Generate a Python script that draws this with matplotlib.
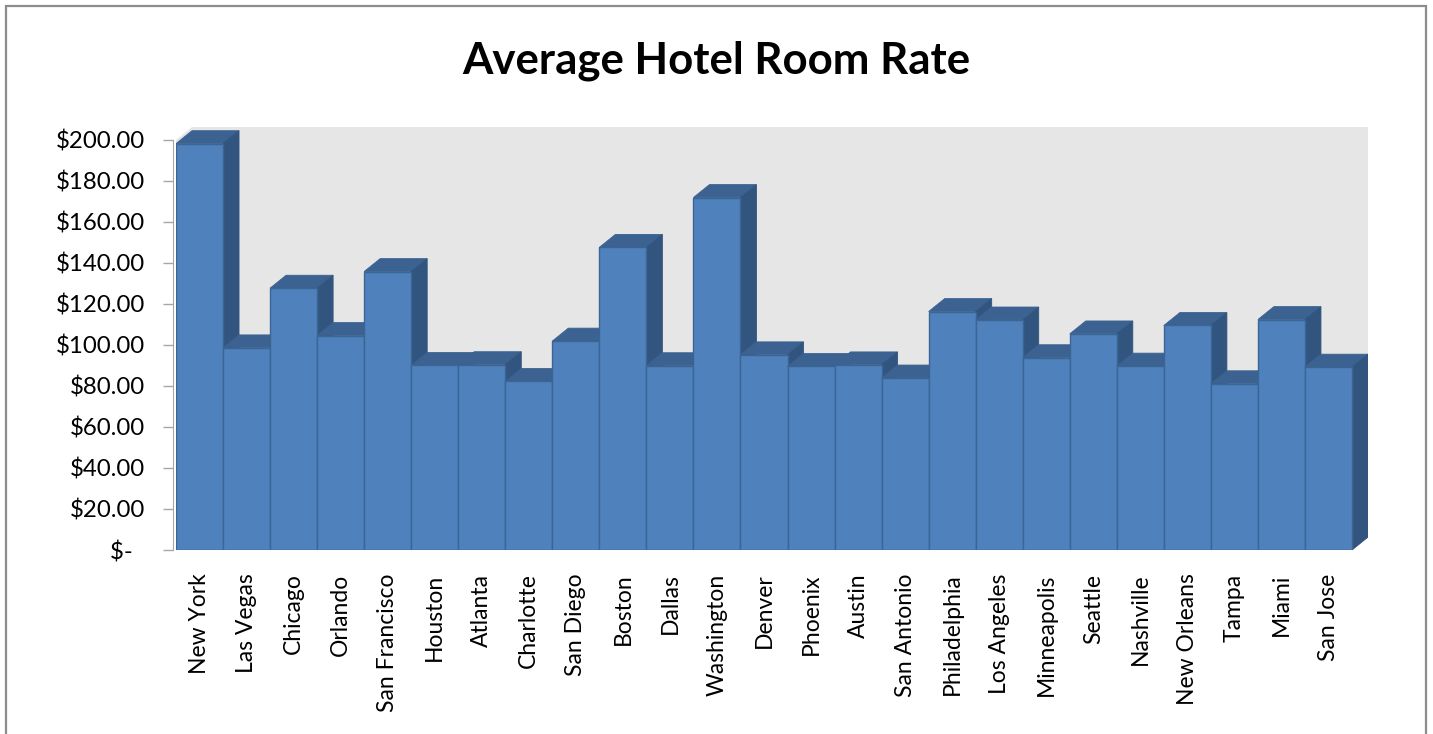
import matplotlib
matplotlib.use("Agg")
import matplotlib.pyplot as plt
from matplotlib.patches import Polygon, Rectangle

cities = ["New York", "Las Vegas", "Chicago", "Orlando", "San Francisco", "Houston",
          "Atlanta", "Charlotte", "San Diego", "Boston", "Dallas", "Washington",
          "Denver", "Phoenix", "Austin", "San Antonio", "Philadelphia", "Los Angeles",
          "Minneapolis", "Seattle", "Nashville", "New Orleans", "Tampa", "Miami", "San Jose"]
rates = [198.2, 98.6, 127.7, 104.6, 135.8, 90.0, 90.4, 82.2, 101.9, 147.6, 89.9, 171.9,
         95.2, 89.5, 90.3, 83.9, 116.3, 112.2, 93.8, 105.4, 89.7, 109.5, 81.1, 112.4, 89.2]
y_ticks = [0, 20, 40, 60, 80, 100, 120, 140, 160, 180, 200]
y_tick_labels = ["$-  ", "$20.00", "$40.00", "$60.00", "$80.00", "$100.00", "$120.00",
                 "$140.00", "$160.00", "$180.00", "$200.00"]
title = "Average Hotel Room Rate"

FONT = "Lato"
W, H = 1433, 734
fig = plt.figure(figsize=(W / 100, H / 100), dpi=100)

# outer chart border
fig.add_artist(Rectangle((6 / W, -0.05), (1426 - 6) / W, (H - 6) / H + 0.05,
                         transform=fig.transFigure, fill=False, edgecolor="#8C8C8C",
                         linewidth=1.6))

# axes covering front plane plus depth
left, right, top, bottom = 176, 1368, 127, 550
ax = fig.add_axes([left / W, (H - bottom) / H, (right - left) / W, (bottom - top) / H])
DX = 0.34   # depth offset in bar units
DY = 6.3    # depth offset in value units
n = len(cities)
ax.set_xlim(-0.5, n - 0.5 + DX)
ax.set_ylim(0, 200 + DY)
ax.set_facecolor("none")
for s in ["top", "right", "bottom"]:
    ax.spines[s].set_visible(False)
ax.spines["left"].set_bounds(0, 200)
ax.spines["left"].set_color("#A6A6A6")
ax.spines["left"].set_position(("data", -0.5 - 3 / 47))

wall = "#E6E6E6"
# back wall and side wall
ax.add_patch(Polygon([(-0.5 + DX, DY), (n - 0.5 + DX, DY), (n - 0.5 + DX, 200 + DY),
                      (-0.5 + DX, 200 + DY)], closed=True, facecolor=wall, edgecolor="none", zorder=0))
ax.add_patch(Polygon([(-0.5, 0), (-0.5, 200), (-0.5 + DX, 200 + DY), (-0.5 + DX, DY)],
                     closed=True, facecolor=wall, edgecolor="none", zorder=0))
# floor
ax.add_patch(Polygon([(-0.5, 0), (n - 0.5, 0), (n - 0.5 + DX, DY), (-0.5 + DX, DY)],
                     closed=True, facecolor="#D9D9D9", edgecolor="none", zorder=0))

front_c = "#4F81BD"
top_c = "#3B6290"
side_c = "#31557F"
edge_c = "#3A6594"

for i, v in enumerate(rates):
    z = 2 + i * 3
    ax.bar(i, v, width=1.0, color=front_c, edgecolor=edge_c, linewidth=1.0, zorder=z + 2)
    ax.add_patch(Polygon([(i - 0.5, v), (i + 0.5, v), (i + 0.5 + DX, v + DY), (i - 0.5 + DX, v + DY)],
                         closed=True, facecolor=top_c, edgecolor=top_c, linewidth=0.6, zorder=z))
    ax.add_patch(Polygon([(i + 0.5, 0), (i + 0.5, v), (i + 0.5 + DX, v + DY), (i + 0.5 + DX, DY)],
                         closed=True, facecolor=side_c, edgecolor=side_c, linewidth=0.6, zorder=z + 1))

ax.set_yticks(y_ticks)
ax.set_yticklabels(y_tick_labels, fontfamily=FONT, fontsize=17.3)
ax.tick_params(axis="y", direction="out", length=7, width=1, color="#A6A6A6", pad=13)

ax.set_xticks(range(n))
ax.set_xticklabels(cities, rotation=90, fontfamily=FONT, fontsize=16.5)
ax.tick_params(axis="x", length=0, pad=17)

fig.text(716 / W, 1 - 61 / H, title, ha="center", va="center", fontfamily=FONT,
         fontweight="bold", fontsize=31.5)

fig.savefig("out.png", dpi=100)
